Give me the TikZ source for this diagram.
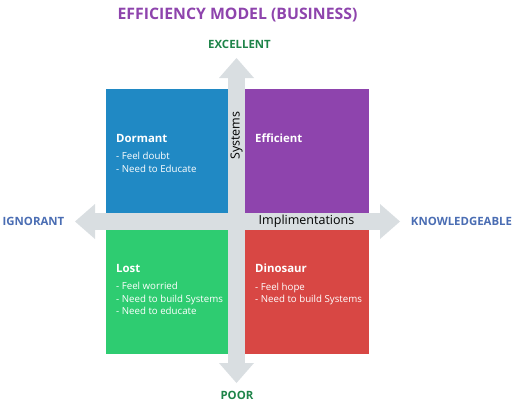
\documentclass[tikz,border=0pt]{standalone}
\usepackage{fontspec}
\setmainfont{Open Sans}
\usepackage{tikz}
\usetikzlibrary{arrows.meta}
\usetikzlibrary{positioning}
\definecolor{dormant_blue}{HTML}{2089C4}
\definecolor{efficient_purple}{HTML}{8E44AD}
\definecolor{lost_green}{HTML}{2ECC71}
\definecolor{dinosaur_red}{HTML}{D84744}
\definecolor{axis_grey}{HTML}{D9DEE1}
\definecolor{axis_green}{HTML}{1E8449}
\definecolor{axis_blue}{HTML}{4A6DB3}
\tikzstyle{quadrant} = [rectangle, inner sep = 0, minimum width = 131pt, minimum height = 132pt]
\tikzstyle{quadrant_title} = [inner sep = 0, anchor = west, text = white, font = \fontsize{11.4}{13}\selectfont\bfseries]
\tikzstyle{quadrant_items} = [inner sep = 0, anchor = north west, align = left, text = white, font = \fontsize{9.7}{12.2}\selectfont]
\tikzstyle{axis_arrow} = [line width = 17pt, draw = axis_grey, {Triangle[length = 20pt, width = 35pt, line width = 0pt, fill = axis_grey]}-{Triangle[length = 20pt, width = 35pt, line width = 0pt, fill = axis_grey]}]
\tikzstyle{axis_label} = [inner sep = 0, font = \fontsize{11.4}{13}\selectfont\bfseries]
\tikzstyle{arrow_label} = [inner sep = 0, text = black, font = \fontsize{12.5}{14}\selectfont]

\begin{document}
\begin{tikzpicture}[x = 1pt, y = -1pt]
        \useasboundingbox (0, 0) rectangle (514, 415);
        \coordinate (centre) at (237.5, 221.5);

        % the four quadrants
        \node [quadrant, fill = dormant_blue, anchor = south east] (dormant) at (centre) {};
        \node [quadrant, fill = efficient_purple, anchor = south west] (efficient) at (centre) {};
        \node [quadrant, fill = lost_green, anchor = north east] (lost) at (centre) {};
        \node [quadrant, fill = dinosaur_red, anchor = north west] (dinosaur) at (centre) {};

        % axes
        \coordinate (top_tip) at (236.5, 58);
        \coordinate (bottom_tip) at (236.5, 383);
        \coordinate (left_tip) at (75, 221.5);
        \coordinate (right_tip) at (400, 221.5);
        \draw [axis_arrow] (bottom_tip) -- (top_tip);
        \draw [axis_arrow] (left_tip) -- (right_tip);

        \node [arrow_label, rotate = 90] (systems) at (236.5, 135.5) {Systems};
        \node [arrow_label] (implimentations) at (306.5, 221.5) {Implimentations};

        % quadrant texts
        \node [quadrant_title] (dormant_title) at (116, 138) {Dormant};
        \node [quadrant_items, below = 10pt of dormant_title.south west, anchor = north west] (dormant_items) {- Feel doubt\\- Need to Educate};
        \node [quadrant_title] (efficient_title) at (255, 138) {Efficient};
        \node [quadrant_title] (lost_title) at (116, 268) {Lost};
        \node [quadrant_items, below = 10pt of lost_title.south west, anchor = north west] (lost_items) {- Feel worried\\- Need to build Systems\\- Need to educate};
        \node [quadrant_title] (dinosaur_title) at (255, 268) {Dinosaur};
        \node [quadrant_items, below = 10pt of dinosaur_title.south west, anchor = north west] (dinosaur_items) {- Feel hope\\- Need to build Systems};

        % labels
        \node [inner sep = 0, text = efficient_purple, font = \fontsize{15.8}{19}\selectfont\bfseries] (title) at (237.5, 15) {EFFICIENCY MODEL (BUSINESS)};
        \node [axis_label, text = axis_green] (excellent) at (239.5, 44) {EXCELLENT};
        \node [axis_label, text = axis_green] (poor) at (237, 395.5) {POOR};
        \node [axis_label, text = axis_blue] (ignorant) at (33.5, 221.5) {IGNORANT};
        \node [axis_label, text = axis_blue] (knowledgeable) at (461.5, 221.5) {KNOWLEDGEABLE};
    \end{tikzpicture}
\end{document}
